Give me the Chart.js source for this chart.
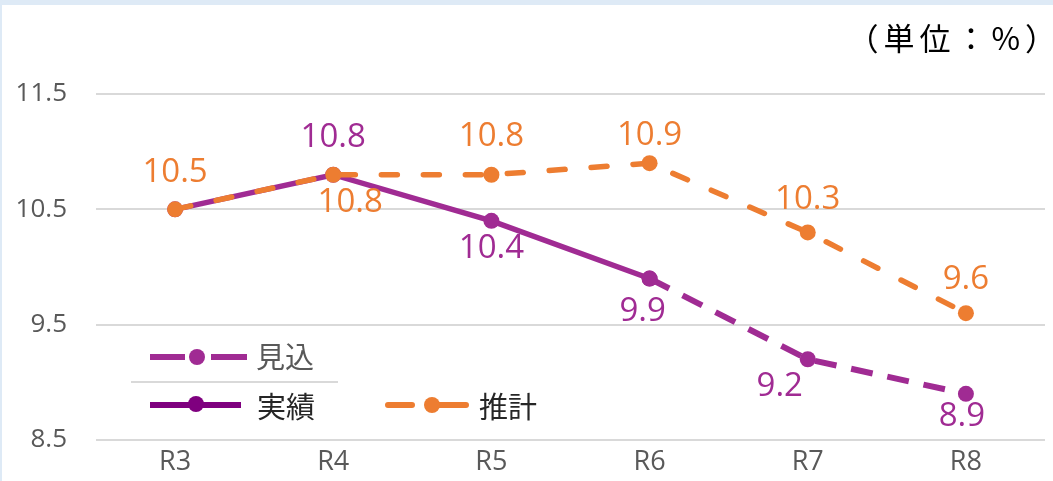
<!DOCTYPE html>
<html>
<head>
<meta charset="utf-8">
<script src="https://cdn.jsdelivr.net/npm/chart.js@4"></script>
<style>
html,body{margin:0;padding:0;background:#fff;overflow:hidden;}
#wrap{width:1053px;height:481px;position:relative;overflow:hidden;}
canvas{display:block;}
</style>
</head>
<body>
<div id="wrap"><canvas id="c" width="1053" height="485"></canvas></div>
<script>
// ---- data ----
const categories = ['R3','R4','R5','R6','R7','R8'];
const forecastValues = [10.5, 10.8, 10.8, 10.9, 10.3, 9.6];     // 推計
const actualValues   = [10.5, 10.8, 10.4, 9.9, null, null];     // 実績
const expectedValues = [null, null, null, 9.9, 9.2, 8.9];       // 見込
const yTicks = [8.5, 9.5, 10.5, 11.5];
const unitText = '（単位：%）';
const seriesNames = { expected: '見込', actual: '実績', forecast: '推計' };

// ---- styles / label layout ----
const ORANGE = '#ED7D31';
const MAGENTA = '#A02B93';
const DARKPURPLE = '#7F007F';
// [dx, dy] label offsets per point, null = no label
const forecastLabelOffsets = [[0,-37],[17,28],[0,-38],[0,-28],[0,-33],[0,-34]];
const actualLabelOffsets   = [null,[0,-37],[0,28],[-7,33],null,null];
const expectedLabelOffsets = [null,null,null,null,[-28,27],[-4,23]];

const labelPlugin = {
  id: 'labels',
  beforeDraw(chart) {
    const ctx = chart.ctx;
    ctx.save();
    ctx.fillStyle = '#DEEAF6';
    ctx.fillRect(0, 0, chart.width, 5);
    ctx.fillRect(0, 0, 2, chart.height);
    ctx.restore();
  },
  afterDatasetsDraw(chart) {
    const ctx = chart.ctx;
    ctx.save();
    ctx.font = '33px "Open Sans", sans-serif';
    ctx.textAlign = 'center';
    ctx.textBaseline = 'middle';
    const sets = [
      {idx: 2, offs: actualLabelOffsets, color: MAGENTA},
      {idx: 1, offs: expectedLabelOffsets, color: MAGENTA},
      {idx: 0, offs: forecastLabelOffsets, color: ORANGE}
    ];
    sets.forEach(s => {
      const meta = chart.getDatasetMeta(s.idx);
      const data = chart.data.datasets[s.idx].data;
      meta.data.forEach((pt, i) => {
        const off = s.offs[i];
        if (!off || data[i] == null) return;
        ctx.fillStyle = s.color;
        ctx.fillText(data[i].toFixed(1), pt.x + off[0], pt.y + off[1]);
      });
    });
    // unit text
    ctx.font = '31px "Noto Sans CJK JP", sans-serif';
    ctx.fillStyle = '#000';
    ctx.textAlign = 'right';
    try { ctx.letterSpacing = '5px'; } catch (e) {}
    ctx.fillText(unitText, 1061, 38);
    try { ctx.letterSpacing = '0px'; } catch (e) {}

    // custom legend
    ctx.lineCap = 'butt';
    ctx.font = '29px "Noto Sans CJK JP", sans-serif';
    ctx.textAlign = 'left';
    // 見込
    ctx.strokeStyle = MAGENTA; ctx.lineWidth = 6;
    ctx.beginPath(); ctx.moveTo(150,357); ctx.lineTo(185,357); ctx.moveTo(211,357); ctx.lineTo(247,357); ctx.stroke();
    ctx.fillStyle = MAGENTA; ctx.beginPath(); ctx.arc(197,357,8,0,Math.PI*2); ctx.fill();
    ctx.fillStyle = '#595959'; ctx.fillText(seriesNames.expected, 256, 357);
    // separator
    ctx.strokeStyle = '#D9D9D9'; ctx.lineWidth = 2;
    ctx.beginPath(); ctx.moveTo(131,382); ctx.lineTo(338,382); ctx.stroke();
    // 実績
    ctx.strokeStyle = DARKPURPLE; ctx.lineWidth = 6;
    ctx.beginPath(); ctx.moveTo(150,405); ctx.lineTo(241,405); ctx.stroke();
    ctx.fillStyle = DARKPURPLE; ctx.beginPath(); ctx.arc(196,404,8,0,Math.PI*2); ctx.fill();
    ctx.fillStyle = '#262626'; ctx.fillText(seriesNames.actual, 257, 407);
    // 推計
    ctx.strokeStyle = ORANGE; ctx.lineWidth = 6; ctx.lineCap = 'round';
    ctx.beginPath(); ctx.moveTo(388,405); ctx.lineTo(412,405); ctx.moveTo(430,405); ctx.lineTo(466,405); ctx.stroke();
    ctx.fillStyle = ORANGE; ctx.beginPath(); ctx.arc(432,405,8,0,Math.PI*2); ctx.fill();
    ctx.fillStyle = '#262626'; ctx.fillText(seriesNames.forecast, 479, 407);
    ctx.restore();
  }
};

new Chart(document.getElementById('c'), {
  type: 'line',
  data: {
    labels: categories,
    datasets: [
      { label: seriesNames.forecast, data: forecastValues, borderColor: ORANGE, backgroundColor: ORANGE,
        borderWidth: 5.5, borderDash: [16, 26], borderCapStyle: 'round', pointRadius: 8, pointHoverRadius: 8,
        pointBorderWidth: 0, order: 0, tension: 0 },
      { label: seriesNames.expected, data: expectedValues, borderColor: MAGENTA, backgroundColor: MAGENTA,
        borderWidth: 6, borderDash: [22, 15], pointRadius: 8, pointHoverRadius: 8, pointBorderWidth: 0,
        order: 2, tension: 0 },
      { label: seriesNames.actual, data: actualValues, borderColor: MAGENTA, backgroundColor: MAGENTA,
        borderWidth: 5.5, pointRadius: 8, pointHoverRadius: 8, pointBorderWidth: 0, order: 1, tension: 0 }
    ]
  },
  options: {
    responsive: false,
    animation: false,
    layout: { padding: { top: 94, right: 4, left: 0, bottom: 0 } },
    plugins: { legend: { display: false }, tooltip: { enabled: false } },
    scales: {
      x: {
        offset: true,
        grid: { display: false, drawTicks: false },
        border: { display: false },
        ticks: { color: '#595959', font: { family: 'Open Sans', size: 27, lineHeight: 1 }, padding: 9 }
      },
      y: {
        min: 8.5, max: 11.5,
        afterBuildTicks(s) { s.ticks = yTicks.map(v => ({ value: v })); },
        grid: { color: '#D9D9D9', lineWidth: 2, drawTicks: false },
        border: { display: false },
        ticks: { color: '#595959', font: { family: 'Open Sans', size: 26 }, padding: 29,
                 callback: v => v.toFixed(1) },
        afterFit(s) { s.width = 96; }
      }
    }
  },
  plugins: [labelPlugin]
});
</script>
</body>
</html>
